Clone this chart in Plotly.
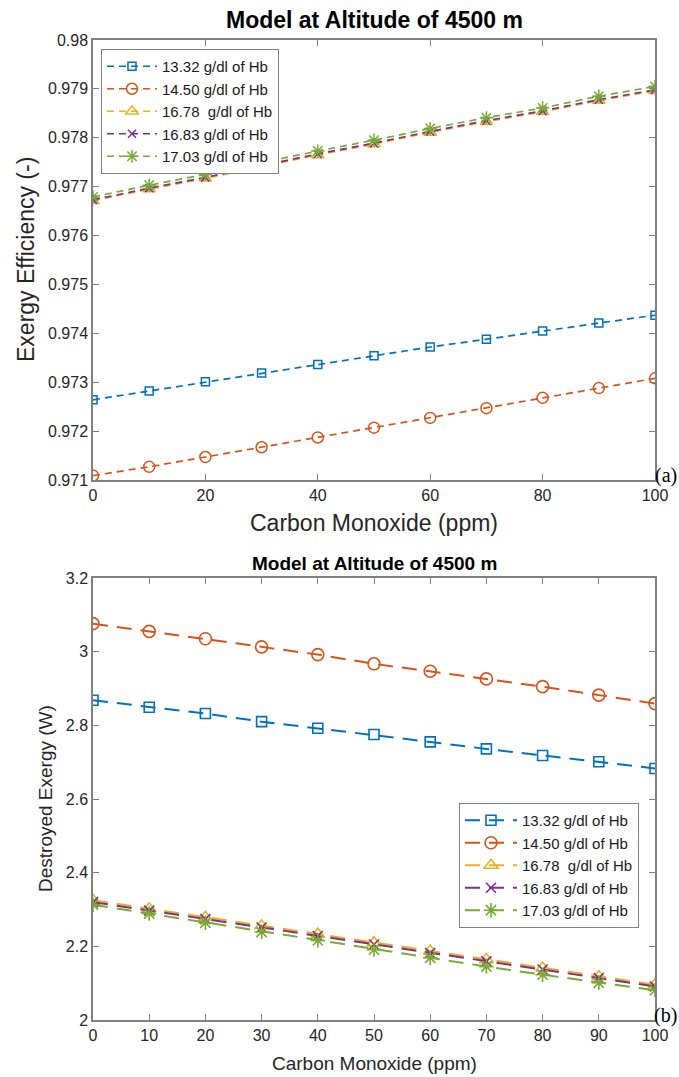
import plotly.graph_objects as go

# Carbon monoxide concentration (ppm)
co_ppm = [0, 10, 20, 30, 40, 50, 60, 70, 80, 90, 100]

series_names = [
    "13.32 g/dl of Hb",
    "14.50 g/dl of Hb",
    "16.78\u00a0 g/dl of Hb",
    "16.83 g/dl of Hb",
    "17.03 g/dl of Hb",
]

# (a) Exergy efficiency (-)
eff_1332 = [0.97264, 0.97282, 0.97301, 0.97319, 0.97336, 0.97354, 0.97372, 0.97388, 0.97405, 0.97421, 0.97437]
eff_1450 = [0.97109, 0.97127, 0.97147, 0.97167, 0.97187, 0.97207, 0.97227, 0.97247, 0.97268, 0.97288, 0.97308]
eff_1678 = [0.97671, 0.97695, 0.97717, 0.97741, 0.97765, 0.97787, 0.97811, 0.97833, 0.97853, 0.97876, 0.97896]
eff_1683 = [0.97673, 0.97697, 0.97719, 0.97743, 0.97767, 0.97789, 0.97813, 0.97835, 0.97855, 0.97878, 0.97898]
eff_1703 = [0.97679, 0.97703, 0.97725, 0.97749, 0.97773, 0.97795, 0.97819, 0.97841, 0.97861, 0.97885, 0.97905]

# (b) Destroyed exergy (W)
ex_1332 = [2.868, 2.849, 2.832, 2.810, 2.792, 2.775, 2.755, 2.736, 2.718, 2.701, 2.683]
ex_1450 = [3.076, 3.055, 3.035, 3.013, 2.992, 2.967, 2.947, 2.926, 2.905, 2.882, 2.859]
ex_1678 = [2.325, 2.302, 2.279, 2.256, 2.233, 2.210, 2.187, 2.164, 2.141, 2.118, 2.096]
ex_1683 = [2.320, 2.297, 2.274, 2.251, 2.228, 2.205, 2.182, 2.159, 2.137, 2.114, 2.091]
ex_1703 = [2.313, 2.289, 2.264, 2.239, 2.216, 2.191, 2.169, 2.145, 2.123, 2.101, 2.081]

eff_ticks = [0.971, 0.972, 0.973, 0.974, 0.975, 0.976, 0.977, 0.978, 0.979, 0.98]
eff_tick_text = ["0.971", "0.972", "0.973", "0.974", "0.975", "0.976", "0.977", "0.978", "0.979", "0.98"]
ex_ticks = [2.0, 2.2, 2.4, 2.6, 2.8, 3.0, 3.2]
ex_tick_text = ["2", "2.2", "2.4", "2.6", "2.8", "3", "3.2"]

W, H = 679, 1077
FONT = "Liberation Sans, Arial, sans-serif"
colors = ["#0072BD", "#D95319", "#EDB120", "#7E2F8E", "#77AC30"]
symbols = ["square-open", "circle-open", "triangle-up-open", "x-thin-open", "asterisk-open"]
sizes_a = [8, 11, 11, 8, 11]
sizes_b = [10, 12, 12, 10, 12]


def px_x(x):
    return x / W


def px_y(y):
    return 1 - y / H


fig = go.Figure()

eff_series = [eff_1332, eff_1450, eff_1678, eff_1683, eff_1703]
ex_series = [ex_1332, ex_1450, ex_1678, ex_1683, ex_1703]

for i, vals in enumerate(eff_series):
    fig.add_trace(go.Scatter(
        x=co_ppm, y=vals, name=series_names[i], mode="lines+markers",
        xaxis="x", yaxis="y", legend="legend",
        line=dict(color=colors[i], width=1.7, dash="7px,5px"),
        marker=dict(symbol=symbols[i], size=sizes_a[i], color=colors[i],
                    line=dict(color=colors[i], width=1.5)),
    ))

for i, vals in enumerate(ex_series):
    fig.add_trace(go.Scatter(
        x=co_ppm, y=vals, name=series_names[i], mode="lines+markers",
        xaxis="x2", yaxis="y2", legend="legend2",
        line=dict(color=colors[i], width=2, dash="15px,9px"),
        marker=dict(symbol=symbols[i], size=sizes_b[i], color=colors[i],
                    line=dict(color=colors[i], width=1.6)),
    ))

axis_common = dict(
    showline=True, linecolor="#808080", linewidth=1.5, mirror="ticks",
    ticks="inside", ticklen=6, tickcolor="#808080", tickwidth=1,
    showgrid=False, zeroline=False, automargin=False,
)

xdom = [px_x(93), px_x(655)]

fig.update_layout(
    width=W, height=H,
    margin=dict(l=0, r=0, t=0, b=0, autoexpand=False),
    paper_bgcolor="white", plot_bgcolor="white",
    font=dict(family=FONT, color="#262626"),
    xaxis=dict(domain=xdom, anchor="y", range=[0, 100], tickvals=[0, 20, 40, 60, 80, 100],
               tickfont=dict(size=16, color="#262626"), **axis_common),
    yaxis=dict(domain=[px_y(480), px_y(40)], anchor="x", range=[0.971, 0.98],
               tickvals=eff_ticks, ticktext=eff_tick_text,
               tickfont=dict(size=16, color="#262626"), **axis_common),
    xaxis2=dict(domain=xdom, anchor="y2", range=[0, 100], tickvals=co_ppm,
                tickfont=dict(size=16, color="#262626"), **axis_common),
    yaxis2=dict(domain=[px_y(1020), px_y(578)], anchor="x2", range=[2.0, 3.2],
                tickvals=ex_ticks, ticktext=ex_tick_text,
                tickfont=dict(size=16, color="#262626"), **axis_common),
    legend=dict(x=px_x(101), y=px_y(49), xanchor="left", yanchor="top",
                bgcolor="white", bordercolor="#808080", borderwidth=1,
                font=dict(size=15, color="#1a1a1a", family=FONT),
                tracegroupgap=0, itemwidth=50),
    legend2=dict(x=px_x(459), y=px_y(803), xanchor="left", yanchor="top",
                 bgcolor="white", bordercolor="#808080", borderwidth=1,
                 font=dict(size=15, color="#1a1a1a", family=FONT),
                 tracegroupgap=0, itemwidth=52),
    showlegend=True,
)

annotations = [
    # panel (a) titles
    dict(text="<b>Model at Altitude of 4500 m</b>", x=px_x(374), y=px_y(20),
         font=dict(size=23, color="black")),
    dict(text="Carbon Monoxide (ppm)", x=px_x(374), y=px_y(523),
         font=dict(size=23, color="#262626")),
    dict(text="Exergy Efficiency (-)", x=px_x(26), y=px_y(260), textangle=-90,
         font=dict(size=23, color="#262626")),
    dict(text="(a)", x=1.0, y=px_y(489), xanchor="right", yanchor="bottom",
         font=dict(size=20, color="black", family="Liberation Serif, Times New Roman, serif")),
    # panel (b) titles
    dict(text="<b>Model at Altitude of 4500 m</b>", x=px_x(374), y=px_y(563),
         font=dict(size=19, color="black")),
    dict(text="Carbon Monoxide (ppm)", x=px_x(374), y=px_y(1063),
         font=dict(size=19, color="#262626")),
    dict(text="Destroyed Exergy (W)", x=px_x(45), y=px_y(799), textangle=-90,
         font=dict(size=19, color="#262626")),
    dict(text="(b)", x=1.0, y=px_y(1029), xanchor="right", yanchor="bottom",
         font=dict(size=20, color="black", family="Liberation Serif, Times New Roman, serif")),
]
for a in annotations:
    a.setdefault("xanchor", "center")
    a.setdefault("yanchor", "middle")
    a.update(xref="paper", yref="paper", showarrow=False)
fig.update_layout(annotations=annotations)

fig.write_html("out.html")
